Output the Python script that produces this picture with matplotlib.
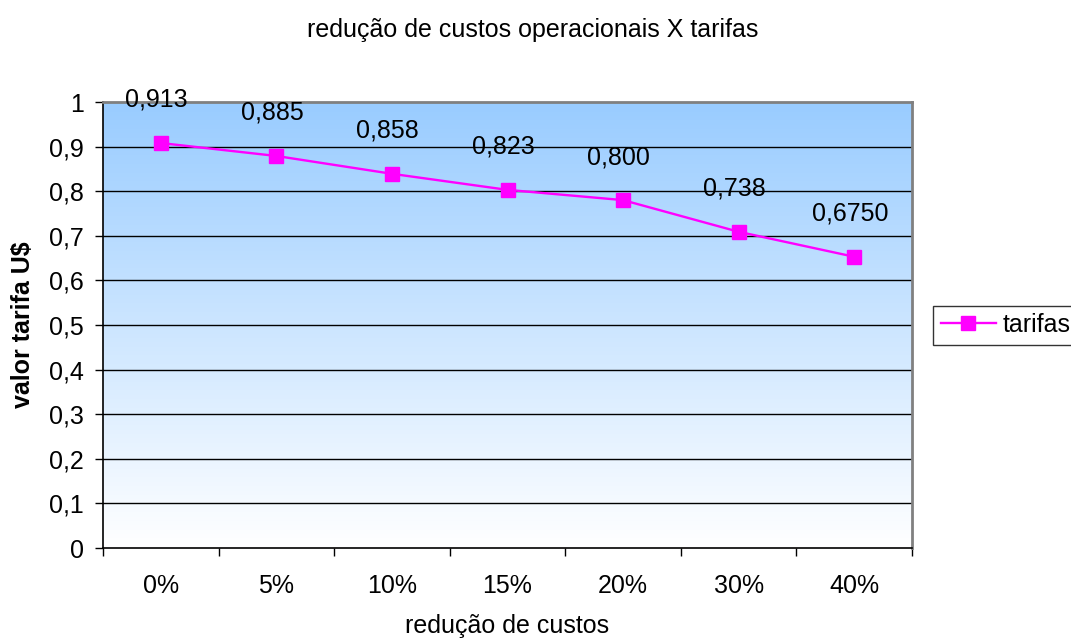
import matplotlib

matplotlib.use("Agg")
import matplotlib.pyplot as plt  # noqa: E402
import numpy as np  # noqa: E402
from matplotlib.colors import LinearSegmentedColormap  # noqa: E402

plt.rcParams["font.family"] = ["Liberation Sans", "DejaVu Sans"]

categories = ["0%", "5%", "10%", "15%", "20%", "30%", "40%"]
tarifas = [0.908, 0.879, 0.839, 0.803, 0.780, 0.709, 0.653]
point_labels = ["0,913", "0,885", "0,858", "0,823", "0,800", "0,738", "0,6750"]
yticks = [0, 0.1, 0.2, 0.3, 0.4, 0.5, 0.6, 0.7, 0.8, 0.9, 1.0]
ytick_labels = ["0", "0,1", "0,2", "0,3", "0,4", "0,5", "0,6", "0,7", "0,8", "0,9", "1"]

MAGENTA = "#FF00FF"
FS = 18

fig = plt.figure(figsize=(10.71, 6.39), dpi=100)
ax = fig.add_axes([103 / 1071, 1 - 548 / 639, (912 - 103) / 1071, (548 - 102) / 639])

n = len(categories)
ax.set_xlim(-0.5, n - 0.5)
ax.set_ylim(0, 1)

# gradient background: light blue at top fading to white
cmap = LinearSegmentedColormap.from_list("bg", ["#FFFFFF", "#99CCFF"])
grad = np.linspace(0, 1, 256).reshape(-1, 1)
ax.imshow(grad, extent=(-0.5, n - 0.5, 0, 1), origin="lower", aspect="auto",
          cmap=cmap, zorder=0)

for y in yticks[1:-1]:
    ax.axhline(y, color="black", lw=1, zorder=1)

x = np.arange(n)
ax.plot(x, tarifas, "-s", color=MAGENTA, lw=1.7, ms=9.5, mec=MAGENTA,
        label="tarifas", zorder=3)
for xi, yi, lab in zip(x, tarifas, point_labels):
    ax.annotate(lab, (xi, yi), xytext=(-3, 31), textcoords="offset points",
                ha="center", va="center", fontsize=FS, zorder=4)

ax.set_xticks(np.arange(-0.5, n, 1.0))
ax.set_xticklabels([])
ax.set_xticks(x, minor=True)
ax.set_xticklabels(categories, minor=True, fontsize=FS)
ax.tick_params(axis="x", which="major", direction="out", length=6, width=1)
ax.tick_params(axis="x", which="minor", length=0, pad=19)
ax.set_yticks(yticks)
ax.set_yticklabels(ytick_labels, fontsize=FS)
ax.tick_params(axis="y", direction="out", length=6, width=1, pad=8)

for side in ("top", "right"):
    ax.spines[side].set_color("#808080")
    ax.spines[side].set_linewidth(2)
for side in ("left", "bottom"):
    ax.spines[side].set_color("black")
    ax.spines[side].set_linewidth(1.2)

fig.text(533 / 1071, 1 - 30 / 639, "redução de custos operacionais X tarifas",
         ha="center", va="center", fontsize=FS)
fig.text(507 / 1071, 1 - 626 / 639, "redução de custos", ha="center", va="center",
         fontsize=FS)
fig.text(23 / 1071, 1 - 325 / 639, "valor tarifa U$", ha="center", va="center",
         rotation=90, fontsize=FS, fontweight="bold")

leg = ax.legend(loc="center left", bbox_to_anchor=(933 / 1071, 1 - 325 / 639),
                bbox_transform=fig.transFigure, fontsize=FS, frameon=True,
                fancybox=False, borderaxespad=0, handlelength=2.2,
                handletextpad=0.3, borderpad=0.3)
leg.get_frame().set_edgecolor("black")
leg.get_frame().set_linewidth(1)

fig.savefig("out.png", dpi=100)
